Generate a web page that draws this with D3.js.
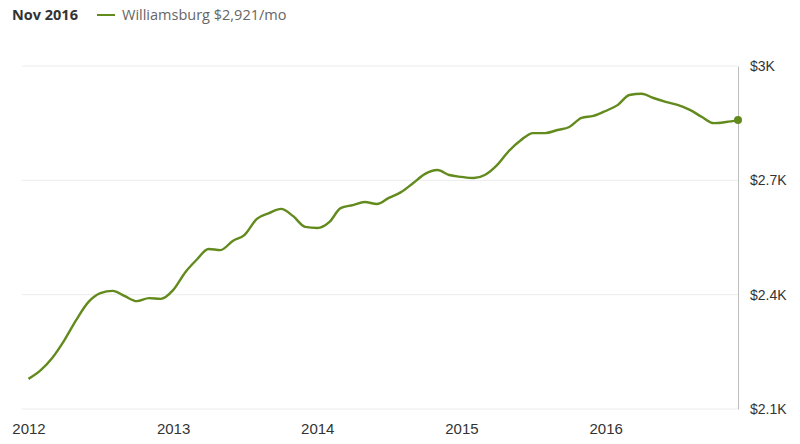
<!DOCTYPE html>
<html>
<head>
<meta charset="utf-8">
<script src="https://cdn.jsdelivr.net/npm/d3@7"></script>
<style>
  body { margin: 0; background: #fff; }
  svg { font-family: "Open Sans", sans-serif; }
</style>
</head>
<body>
<div id="chart-area"></div>
<script>
// monthly rent, Williamsburg, Jan 2012 .. Dec 2016
const startMonth = '2012-01'
const rents = [
  2179, 2202, 2234, 2281, 2334, 2381, 2404, 2410, 2396, 2383, 2391, 2389,
  2412, 2459, 2491, 2520, 2517, 2541, 2557, 2599, 2614, 2625, 2606, 2578,
  2575, 2591, 2627, 2635, 2643, 2638, 2654, 2669, 2693, 2717, 2727, 2714,
  2709, 2706, 2714, 2740, 2777, 2806, 2824, 2824, 2832, 2840, 2864, 2869,
  2882, 2898, 2924, 2927, 2916, 2906, 2898, 2885, 2866, 2850, 2853, 2858
]
const yTicks = [2100, 2400, 2700, 3000]
const yearTicks = [2012, 2013, 2014, 2015, 2016]
const headerDate = 'Nov 2016'
const seriesName = 'Williamsburg $2,921/mo'

const lineColor = '#628a1d'
const width = 800
const height = 444
const margin = {top: 66, right: 62, bottom: 35, left: 28.5}

const parseMonth = d3.timeParse('%Y-%m')
const start = parseMonth(startMonth)
const data = rents.map((v, i) => ({date: d3.timeMonth.offset(start, i), value: v}))

const svg = d3.select('#chart-area').append('svg')
  .attr('width', width)
  .attr('height', height)

const x = d3.scaleTime()
  .domain(d3.extent(data, d => d.date))
  .range([margin.left, width - margin.right])

const y = d3.scaleLinear()
  .domain([2100, 3000])
  .range([height - margin.bottom, margin.top])

// gridlines
svg.append('g')
  .selectAll('line')
  .data(yTicks)
  .join('line')
    .attr('x1', 22)
    .attr('x2', x.range()[1])
    .attr('y1', d => y(d))
    .attr('y2', d => y(d))
    .attr('stroke', '#ececec')
    .attr('stroke-width', 1)

// right axis
const yAxisCall = d3.axisRight(y)
  .tickValues(yTicks)
  .tickSize(0)
  .tickPadding(12)
  .tickFormat(d => d === 3000 ? '$3K' : '$' + d3.format('.1f')(d / 1000) + 'K')
svg.append('g')
  .attr('class', 'y-axis')
  .attr('transform', `translate(${x.range()[1]},0)`)
  .call(yAxisCall)
  .call(g => g.select('.domain').attr('stroke', '#bdbdbd'))
  .selectAll('text')
    .attr('fill', '#333')
    .attr('font-size', 14)

// bottom axis
const xAxisCall = d3.axisBottom(x)
  .tickValues(yearTicks.map(yr => new Date(yr, 0, 1)))
  .tickSize(0)
  .tickFormat(d3.timeFormat('%Y'))
svg.append('g')
  .attr('class', 'x-axis')
  .attr('transform', `translate(0,${height - margin.bottom + 11})`)
  .call(xAxisCall)
  .call(g => g.select('.domain').remove())
  .selectAll('text')
    .attr('fill', '#333')
    .attr('font-size', 15)

// line
const line = d3.line()
  .x(d => x(d.date))
  .y(d => y(d.value))
  .curve(d3.curveMonotoneX)

svg.append('path')
  .datum(data)
  .attr('fill', 'none')
  .attr('stroke', lineColor)
  .attr('stroke-width', 2.4)
  .attr('stroke-linejoin', 'round')
  .attr('d', line)

const last = data[data.length - 1]
svg.append('circle')
  .attr('cx', x(last.date))
  .attr('cy', y(last.value))
  .attr('r', 4)
  .attr('fill', lineColor)

// header / legend
svg.append('text')
  .attr('x', 12)
  .attr('y', 20)
  .attr('font-size', 14.5)
  .attr('font-weight', 'bold')
  .attr('fill', '#333')
  .text(headerDate)

svg.append('line')
  .attr('x1', 97).attr('x2', 115)
  .attr('y1', 15).attr('y2', 15)
  .attr('stroke', lineColor)
  .attr('stroke-width', 2)

svg.append('text')
  .attr('x', 122)
  .attr('y', 20)
  .attr('font-size', 14.5)
  .attr('fill', '#666')
  .text(seriesName)
</script>
</body>
</html>
